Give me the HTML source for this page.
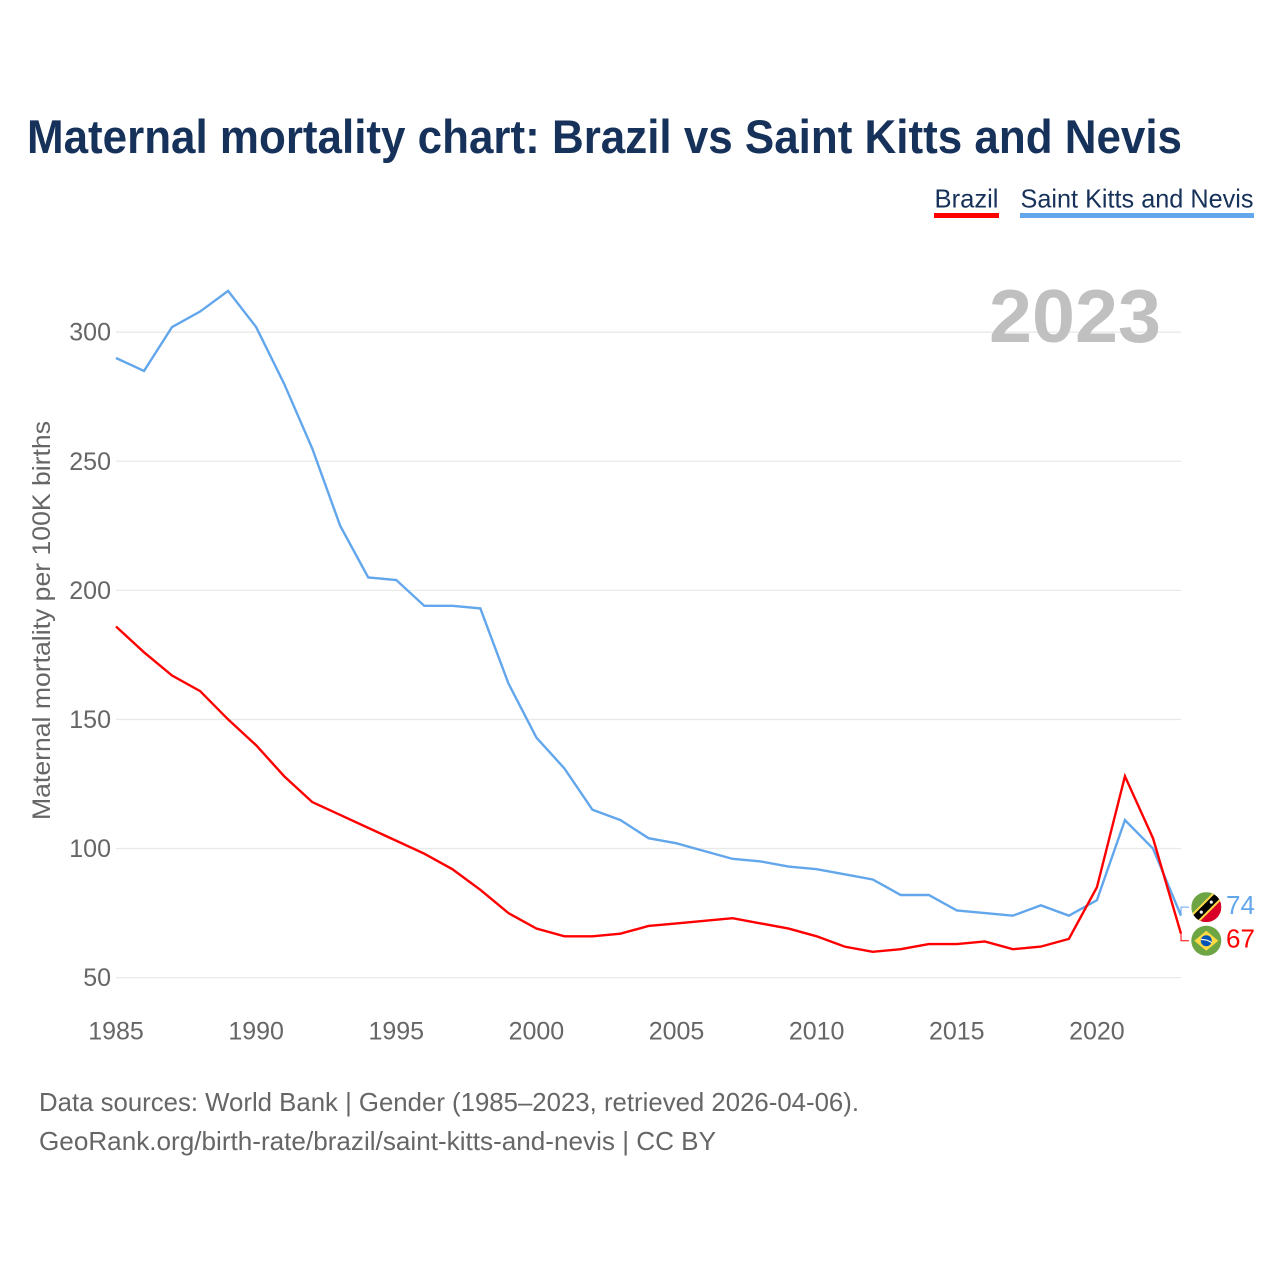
<!DOCTYPE html>
<html lang="en">
<head>
<meta charset="utf-8">
<title>Maternal mortality chart: Brazil vs Saint Kitts and Nevis</title>
<style>
html,body{margin:0;padding:0;background:#fff;width:1280px;height:1280px;overflow:hidden}
svg{display:block}
text{font-family:"Liberation Sans",sans-serif}
</style>
</head>
<body>
<svg id="chart" width="1280" height="1280" viewBox="0 0 1280 1280" xmlns="http://www.w3.org/2000/svg">
  <rect width="1280" height="1280" fill="#fff"/>
  <text x="27" y="153" font-size="47" font-weight="700" fill="#17325a" textLength="1155" lengthAdjust="spacingAndGlyphs">Maternal mortality chart: Brazil vs Saint Kitts and Nevis</text>
  <g>
    <text x="934.5" y="207.5" font-size="26" fill="#17325a" textLength="64" lengthAdjust="spacingAndGlyphs">Brazil</text>
    <rect x="934" y="213" width="65" height="5" fill="#ff0000"/>
  </g>
  <g>
    <text x="1020.5" y="207.5" font-size="26" fill="#17325a" textLength="233" lengthAdjust="spacingAndGlyphs">Saint Kitts and Nevis</text>
    <rect x="1020" y="213" width="234" height="5" fill="#62a6ec"/>
  </g>
  <g id="grid"></g>
  <g id="yLabels"></g>
  <g id="xLabels"></g>
  <text x="989" y="342" font-size="75" font-weight="700" fill="#c0c0c0" textLength="172" lengthAdjust="spacingAndGlyphs">2023</text>
  <text transform="translate(50,820) rotate(-90)" x="0" y="0" font-size="25" fill="#666" textLength="399" lengthAdjust="spacingAndGlyphs">Maternal mortality per 100K births</text>
  <g id="series"></g>
  <g id="flagKitts">
    <clipPath id="clipK"><circle cx="0" cy="0" r="15"/></clipPath>
    <g clip-path="url(#clipK)">
      <rect x="-15" y="-15" width="30" height="30" fill="#6da544"/>
      <polygon points="15,-15 15,15 -15,15" fill="#d80027"/>
      <line x1="-17" y1="17" x2="17" y2="-17" stroke="#ffda44" stroke-width="11"/>
      <line x1="-17" y1="17" x2="17" y2="-17" stroke="#000" stroke-width="7"/>
      <circle cx="-5" cy="5" r="1.6" fill="#f0f0f0"/>
      <circle cx="5" cy="-5" r="1.6" fill="#f0f0f0"/>
    </g>
  </g>
  <g id="flagBrazil">
    <circle r="15" fill="#6da544"/>
    <polygon points="0,-10 12,0 0,10 -12,0" fill="#ffda44"/>
    <circle r="5.5" fill="#0052b4"/>
    <path d="M-5.3,-1.2 Q1,-1.5 5.3,2" fill="none" stroke="#f0f0f0" stroke-width="1.2"/>
  </g>
  <text x="39" y="1111" font-size="26" fill="#666" textLength="820" lengthAdjust="spacingAndGlyphs">Data sources: World Bank | Gender (1985–2023, retrieved 2026-04-06).</text>
  <text x="39" y="1150" font-size="26" fill="#666" textLength="677" lengthAdjust="spacingAndGlyphs">GeoRank.org/birth-rate/brazil/saint-kitts-and-nevis | CC BY</text>
</svg>
<script>
const years = [1985,1986,1987,1988,1989,1990,1991,1992,1993,1994,1995,1996,1997,1998,1999,2000,2001,2002,2003,2004,2005,2006,2007,2008,2009,2010,2011,2012,2013,2014,2015,2016,2017,2018,2019,2020,2021,2022,2023];
const brazil = [186,176,167,161,150,140,128,118,113,108,103,98,92,84,75,69,66,66,67,70,71,72,73,71,69,66,62,60,61,63,63,64,61,62,65,85,128,104,67];
const saintKitts = [290,285,302,308,316,302,280,255,225,205,204,194,194,193,164,143,131,115,111,104,102,99,96,95,93,92,90,88,82,82,76,75,74,78,74,80,111,100,74];
const yTicks = [50,100,150,200,250,300];
const xTicks = [1985,1990,1995,2000,2005,2010,2015,2020];

const NS = 'http://www.w3.org/2000/svg';
const xScale = function (year) { return 116 + (year - 1985) * (1181 - 116) / 38; };
const yScale = function (v) { return 977.6 - (v - 50) * (977.6 - 332.2) / 250; };
const make = function (tag, parent) {
  const el = document.createElementNS(NS, tag);
  parent.appendChild(el);
  return el;
};

const grid = document.getElementById('grid');
const yLabels = document.getElementById('yLabels');
yTicks.forEach(function (t) {
  const line = make('line', grid);
  
  
  line.setAttribute('x1', 116);
  line.setAttribute('x2', 1181);
  line.setAttribute('y1', yScale(t));
  line.setAttribute('y2', yScale(t));
  line.setAttribute('stroke', '#e9e9e9');
  line.setAttribute('stroke-width', '1.3');
  const label = make('text', yLabels);
  
  
  label.setAttribute('x', 111);
  label.setAttribute('y', yScale(t) + 8.5);
  label.setAttribute('text-anchor', 'end');
  label.setAttribute('font-size', '25');
  label.setAttribute('fill', '#666');
  label.textContent = t;
});

const xLabels = document.getElementById('xLabels');
xTicks.forEach(function (t) {
  const label = make('text', xLabels);
  
  
  label.setAttribute('x', xScale(t));
  label.setAttribute('y', 1039.5);
  label.setAttribute('text-anchor', 'middle');
  label.setAttribute('font-size', '25');
  label.setAttribute('fill', '#666');
  label.textContent = t;
});

const seriesGroup = document.getElementById('series');
const pointsFor = function (values) {
  return values.map(function (v, i) { return xScale(years[i]) + ',' + yScale(v); }).join(' ');
};
const lastOf = function (values) { return values[values.length - 1]; };
const endX = xScale(years[years.length - 1]);

const kittsLine = make('polyline', seriesGroup);


kittsLine.setAttribute('points', pointsFor(saintKitts));
kittsLine.setAttribute('fill', 'none');
kittsLine.setAttribute('stroke', '#62a6ec');
kittsLine.setAttribute('stroke-width', '2.4');

const brazilLine = make('polyline', seriesGroup);


brazilLine.setAttribute('points', pointsFor(brazil));
brazilLine.setAttribute('fill', 'none');
brazilLine.setAttribute('stroke', '#ff0000');
brazilLine.setAttribute('stroke-width', '2.4');

const kittsEnd = yScale(lastOf(saintKitts));
const brazilEnd = yScale(lastOf(brazil));
const kittsLabelY = kittsEnd - 8.5;
const brazilLabelY = brazilEnd + 7;

const kittsConn = make('polyline', seriesGroup);


kittsConn.setAttribute('points', endX + ',' + kittsEnd + ' ' + endX + ',' + kittsLabelY + ' ' + (endX + 8) + ',' + kittsLabelY);
kittsConn.setAttribute('fill', 'none');
kittsConn.setAttribute('stroke', '#62a6ec');
kittsConn.setAttribute('stroke-width', '1');

const brazilConn = make('polyline', seriesGroup);


brazilConn.setAttribute('points', endX + ',' + brazilEnd + ' ' + endX + ',' + brazilLabelY + ' ' + (endX + 8) + ',' + brazilLabelY);
brazilConn.setAttribute('fill', 'none');
brazilConn.setAttribute('stroke', '#ff0000');
brazilConn.setAttribute('stroke-width', '1');

document.getElementById('flagKitts').setAttribute('transform', 'translate(1206.3,' + kittsLabelY + ')');
document.getElementById('flagBrazil').setAttribute('transform', 'translate(1206.3,' + brazilLabelY + ')');

const kittsValue = make('text', seriesGroup);


kittsValue.setAttribute('x', 1226);
kittsValue.setAttribute('y', kittsLabelY + 6.7);
kittsValue.setAttribute('font-size', '26');
kittsValue.setAttribute('fill', '#62a6ec');
kittsValue.textContent = lastOf(saintKitts);

const brazilValue = make('text', seriesGroup);


brazilValue.setAttribute('x', 1226);
brazilValue.setAttribute('y', brazilLabelY + 7);
brazilValue.setAttribute('font-size', '26');
brazilValue.setAttribute('fill', '#ff0000');
brazilValue.textContent = lastOf(brazil);
</script>
</body>
</html>
